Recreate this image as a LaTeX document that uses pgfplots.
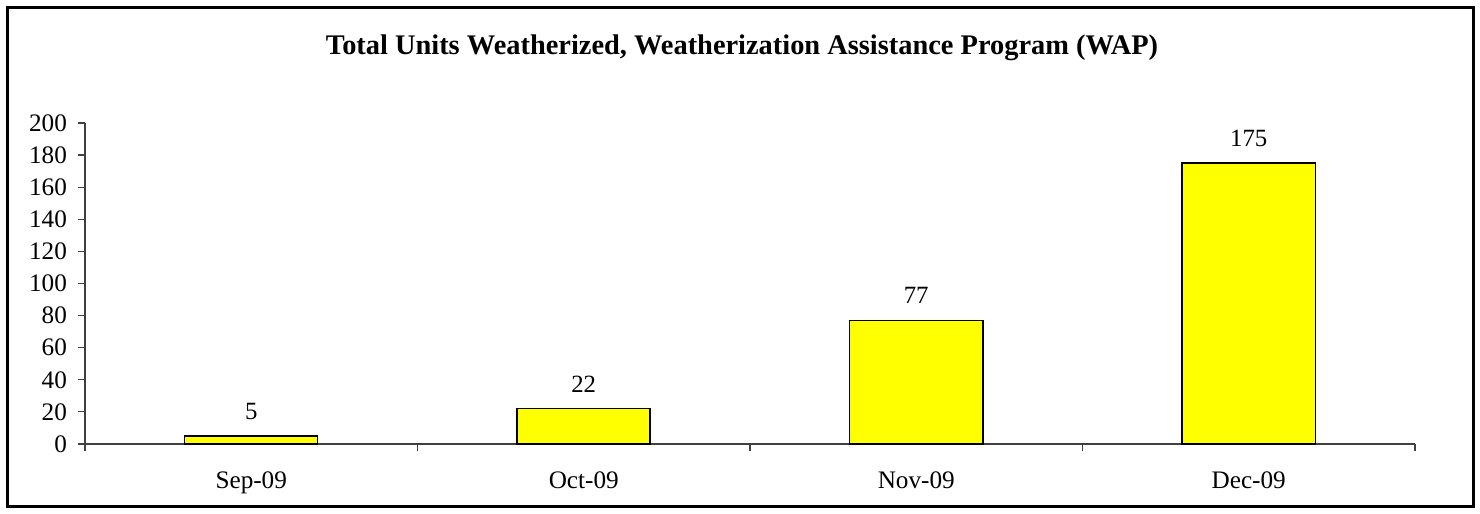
\documentclass[border=0pt]{standalone}
\usepackage{pgfplots}
\pgfplotsset{compat=1.18}
\usepackage{fontspec}
\setmainfont{Liberation Serif}
\begin{document}
\begin{tikzpicture}
\useasboundingbox (0,0) rectangle (740pt,257pt);
\draw[line width=1.5pt] (3.5pt,3.5pt) rectangle (736.5pt,253pt);
\node[anchor=base,font=\fontsize{14.2}{17}\selectfont\bfseries] at (371pt,229.5pt) {Total Units Weatherized, Weatherization Assistance Program (WAP)};
\begin{axis}[
  at={(42.5pt,35pt)}, anchor=south west,
  scale only axis,
  width=665pt, height=160.5pt,
  xmin=-0.5, xmax=3.5, ymin=0, ymax=200,
  axis x line=bottom, axis y line=left,
  axis line style={-, black!75, line width=0.6pt},
  xtick={0,1,2,3},
  xticklabels={Sep-09,Oct-09,Nov-09,Dec-09},
  major x tick style={draw=none},
  minor xtick={-0.5,0.5,1.5,2.5,3.5},
  minor x tick style={black!75, line width=0.6pt},
  minor tick length=3.5pt,
  ytick={0,20,...,200},
  y tick style={black!75, line width=0.6pt},
  major tick length=3.5pt,
  tick align=outside,
  /pgf/number format/assume math mode=true,
  tick label style={font=\fontsize{12.6}{15}\selectfont},
  xticklabel style={yshift=-7pt},
  yticklabel style={xshift=-2pt},
  ybar, bar width=66.5pt,
  nodes near coords,
  every node near coord/.append style={font=\fontsize{12.4}{15}\selectfont, yshift=4.5pt},
  clip=false,
]
\addplot[fill={rgb,255:red,255;green,255;blue,0}, draw=black, line width=0.75pt] coordinates {(0,5) (1,22) (2,77) (3,175)};
\end{axis}
\end{tikzpicture}
\end{document}
